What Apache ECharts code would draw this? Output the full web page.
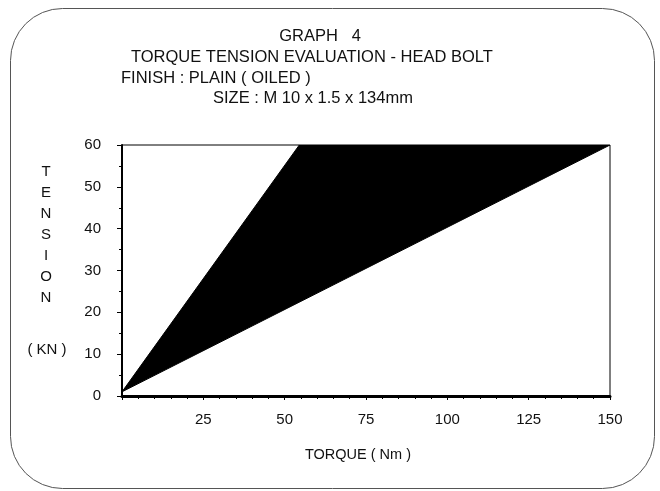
<!DOCTYPE html>
<html>
<head>
<meta charset="utf-8">
<script src="https://cdn.jsdelivr.net/npm/echarts@6/dist/echarts.min.js"></script>
<style>
html,body{margin:0;padding:0;background:#fff;}
#c{width:660px;height:491px;}
</style>
</head>
<body>
<div id="c"></div>
<script>
// Data
var titleLines = ["GRAPH   4", "TORQUE TENSION EVALUATION - HEAD BOLT", "FINISH : PLAIN ( OILED )", "SIZE : M 10 x 1.5 x 134mm"];
var yNameLetters = ["T", "E", "N", "S", "I", "O", "N"];
var yUnit = "( KN )";
var xName = "TORQUE ( Nm )";
var xTicks = [0, 25, 50, 75, 100, 125, 150];
var yTicks = [0, 10, 20, 30, 40, 50, 60];
// boundary of the black torque-tension band (torque Nm, tension kN)
var bandTorque = [0, 54.5, 150];
var bandTension = [1, 60, 60];

var FONT = '"Liberation Sans", Arial, sans-serif';
var chart = echarts.init(document.getElementById('c'), null, {renderer: 'canvas'});

var bandData = bandTorque.map(function (t, i) { return [t, bandTension[i]]; });

function txt(s, x, y, align, size) {
  return {type: 'text', x: x, y: y, silent: true,
    style: {text: s, font: size + 'px ' + FONT, fill: '#111', align: align, verticalAlign: 'middle'}};
}

var graphics = [
  {type: 'rect', left: 8, top: 6, shape: {width: 644, height: 480, r: 52},
   style: {fill: 'none', stroke: '#555', lineWidth: 1}, silent: true},
  txt(titleLines[0], 320, 36, 'center', 16.5),
  txt(titleLines[1], 131, 57, 'left', 16.5),
  txt(titleLines[2], 121, 78, 'left', 16.5),
  txt(titleLines[3], 213, 98, 'left', 16.5),
  txt(yUnit, 47, 350, 'center', 15),
  txt(xName, 358, 455, 'center', 14.5)
];
yNameLetters.forEach(function (ch, i) {
  graphics.push(txt(ch, 46, 172 + i * 21, 'center', 15));
});

chart.setOption({
  animation: false,
  backgroundColor: '#fff',
  graphic: graphics,
  grid: {left: 122, right: 50, top: 145, bottom: 95, show: true, borderColor: '#000', borderWidth: 1, backgroundColor: 'transparent'},
  xAxis: {
    type: 'value', min: xTicks[0], max: xTicks[xTicks.length - 1], interval: 25,
    axisLine: {show: true, lineStyle: {color: '#000', width: 3}},
    axisTick: {show: true, length: 4, lineStyle: {color: '#000', width: 1}},
    minorTick: {show: true, splitNumber: 5, length: 3, lineStyle: {color: '#000'}},
    axisLabel: {margin: 16, fontSize: 15, fontFamily: FONT, color: '#111',
      formatter: function (v) { return v === 0 ? '' : String(v); }},
    splitLine: {show: false}
  },
  yAxis: {
    type: 'value', min: yTicks[0], max: yTicks[yTicks.length - 1], interval: 10,
    axisLine: {show: true, lineStyle: {color: '#000', width: 2}},
    axisTick: {show: true, length: 5, lineStyle: {color: '#000', width: 1}},
    minorTick: {show: true, splitNumber: 2, length: 3, lineStyle: {color: '#000'}},
    axisLabel: {margin: 21, fontSize: 15, fontFamily: FONT, color: '#111'},
    splitLine: {show: false}
  },
  series: [{
    type: 'custom',
    data: bandData,
    clip: true,
    renderItem: function (params, api) {
      if (params.dataIndex !== 0) return null;
      var pts = bandData.map(function (d) { return api.coord(d); });
      return {type: 'polygon', shape: {points: pts}, style: {fill: '#000', stroke: '#000', lineWidth: 1}};
    }
  }]
});
</script>
</body>
</html>
